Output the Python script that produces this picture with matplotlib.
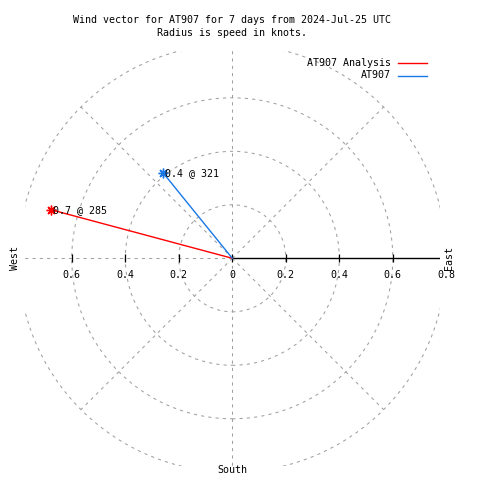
import numpy as np
import matplotlib
matplotlib.use("Agg")
import matplotlib.pyplot as plt
from matplotlib.patches import Circle, Rectangle

# data
series = ["AT907 Analysis", "AT907"]
speeds = [0.70, 0.41]          # knots
directions = [285, 321]        # degrees, clockwise from north
colors = ["#ff0000", "#1a78e6"]

rings = [0.2, 0.4, 0.6, 0.8]
spokes = [0, 45, 90, 135, 180, 225, 270, 315]
tick_pos = [-0.6, -0.4, -0.2, 0.0, 0.2, 0.4, 0.6, 0.8]
tick_text = ["0.6", "0.4", "0.2", "0", "0.2", "0.4", "0.6", "0.8"]

title = "Wind vector for AT907 for 7 days from 2024-Jul-25 UTC\nRadius is speed in knots."

# layout: pixel centre of the polar plot and pixels per knot
W = H = 480
CX, CY, SCALE = 232.3, 258.3, 267.5
RMAX = 0.775  # plot border (clip)

MONO = "DejaVu Sans Mono"
FS = 7.2
GREY = "#a0a0a0"

fig = plt.figure(figsize=(W / 100, H / 100), dpi=100)
ax = fig.add_axes([0, 0, 1, 1])
ax.set_xlim(-CX / SCALE, (W - CX) / SCALE)
ax.set_ylim(-(H - CY) / SCALE, CY / SCALE)
ax.set_aspect("auto")
ax.axis("off")

clip = Rectangle((-RMAX, -RMAX), 2 * RMAX, 2 * RMAX, transform=ax.transData,
                 fill=False, visible=False)
ax.add_patch(clip)

dash = dict(color=GREY, lw=0.75, dashes=(3, 4))

# grid rings
for r in rings:
    c = Circle((0, 0), r, fill=False, edgecolor=GREY, lw=0.75,
               linestyle=(0, (3, 4)))
    ax.add_patch(c)
    c.set_clip_path(clip)

# spokes (east one drawn as solid axis line)
for a in spokes:
    th = np.deg2rad(a)
    xs = [0, max(rings) * np.sin(th)]
    ys = [0, max(rings) * np.cos(th)]
    if a == 90:
        ln, = ax.plot(xs, ys, color="black", lw=1.0)
    else:
        ln, = ax.plot(xs, ys, **dash)
    ln.set_clip_path(clip)

# radial ticks along the horizontal axis
tk, = ax.plot(tick_pos, np.zeros(len(tick_pos)), ls="none", marker="|",
              ms=5.8, mew=0.9, color="black")
tk.set_clip_path(clip)
for x, t in zip(tick_pos, tick_text):
    ax.text(x, -17 / SCALE, t, ha="center", va="center",
            family=MONO, fontsize=FS)

# wind vectors
for name, s, d, col in zip(series, speeds, directions, colors):
    th = np.deg2rad(d)
    x, y = s * np.sin(th), s * np.cos(th)
    ax.plot([0, x], [0, y], color=col, lw=1.0)
    ax.plot([x], [y], ls="none", marker=(8, 2, 0), ms=7, mew=1.0, color=col)
    ax.text(x + 2 / SCALE, y, f"{s:.1f} @ {d}", ha="left", va="center",
            family=MONO, fontsize=FS)

# compass labels
ax.text(-(CX - 15) / SCALE, 0, "West", rotation=90, ha="center", va="center",
        family=MONO, fontsize=FS)
ax.text((449 - CX) / SCALE, 0, "East", rotation=90, ha="center", va="center",
        family=MONO, fontsize=FS)
ax.text(0, -(470 - CY) / SCALE, "South", ha="center", va="center",
        family=MONO, fontsize=FS)

# title
fig.text(232 / W, 1 - 26.5 / H, title, ha="center", va="center",
         family=MONO, fontsize=FS, linespacing=1.3)

# legend
for i, (name, col) in enumerate(zip(series, colors)):
    ypx = 62.5 + 13 * i
    fig.text(391 / W, 1 - ypx / H, name, ha="right", va="center",
             family=MONO, fontsize=FS)
    fig.add_artist(plt.Line2D([398 / W, 427 / W], [1 - ypx / H] * 2,
                              color=col, lw=1.0, transform=fig.transFigure))

fig.savefig("out.png", dpi=100)
